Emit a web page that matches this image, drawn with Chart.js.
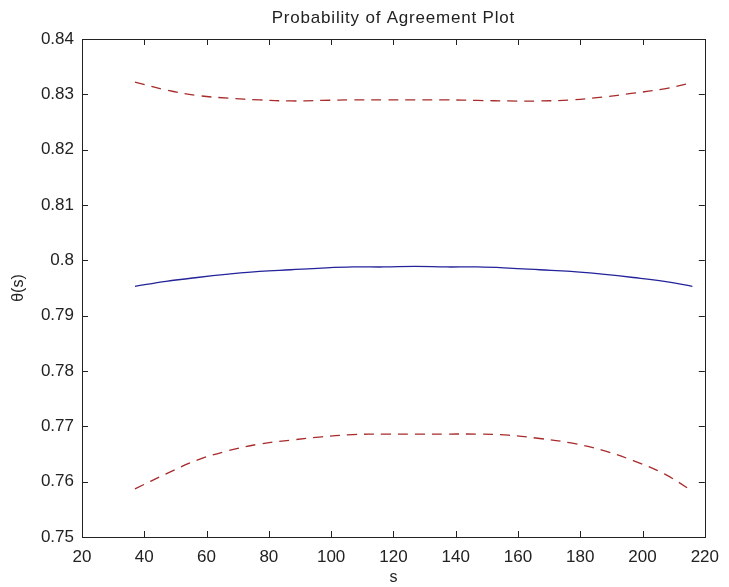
<!DOCTYPE html>
<html>
<head>
<meta charset="utf-8">
<script src="https://cdn.jsdelivr.net/npm/chart.js@4.4.1/dist/chart.umd.min.js"></script>
<style>
  html, body { margin: 0; padding: 0; background: #fff; }
  #wrap { width: 729px; height: 587px; }
</style>
</head>
<body>
<div id="wrap"><canvas id="chart" width="729" height="587"></canvas></div>
<script>
// s values and agreement estimates with their bounds
const sValues    = [37, 47, 57, 67, 77, 87, 97, 107, 117, 127, 137, 147, 157, 167, 177, 187, 197, 207, 216];
const thetaHat   = [0.7953, 0.7962, 0.7969, 0.7975, 0.7980, 0.7983, 0.7986, 0.7988, 0.7988, 0.7989,
                    0.7988, 0.7988, 0.7986, 0.7983, 0.7980, 0.7975, 0.7969, 0.7962, 0.7953];
const upperBound = [0.8322, 0.8308, 0.8298, 0.8293, 0.8290, 0.8288, 0.8289, 0.8290, 0.8290, 0.8290,
                    0.8290, 0.8289, 0.8288, 0.8288, 0.8290, 0.8295, 0.8302, 0.8310, 0.8321];
const lowerBound = [0.7587, 0.7614, 0.7639, 0.7656, 0.7668, 0.7675, 0.7681, 0.7685, 0.7686, 0.7686,
                    0.7686, 0.7686, 0.7684, 0.7678, 0.7670, 0.7657, 0.7638, 0.7614, 0.7583];

const xTickValues = [20, 40, 60, 80, 100, 120, 140, 160, 180, 200, 220];
const yTickValues = [0.75, 0.76, 0.77, 0.78, 0.79, 0.8, 0.81, 0.82, 0.83, 0.84];

const TEXT = '#222';
const FONT = 'Liberation Sans, Arial, sans-serif';

const toPoints = vals => sValues.map((s, i) => ({ x: s, y: vals[i] }));

// box, inward ticks and the axis texts, drawn the old plotting-package way
const frame = {
  id: 'frame',
  afterDatasetsDraw(chart) {
    const { ctx, chartArea: a, scales: { x, y } } = chart;
    const tick = 6;
    ctx.save();
    ctx.strokeStyle = TEXT;
    ctx.lineWidth = 1;
    ctx.strokeRect(Math.round(a.left) + 0.5, Math.round(a.top) + 0.5,
                   Math.round(a.right - a.left), Math.round(a.bottom - a.top));
    ctx.beginPath();
    xTickValues.forEach(v => {
      const px = Math.round(x.getPixelForValue(v)) + 0.5;
      ctx.moveTo(px, a.bottom); ctx.lineTo(px, a.bottom - tick);
      ctx.moveTo(px, a.top); ctx.lineTo(px, a.top + tick);
    });
    yTickValues.forEach(v => {
      const py = Math.round(y.getPixelForValue(v)) + 0.5;
      ctx.moveTo(a.left, py); ctx.lineTo(a.left + tick, py);
      ctx.moveTo(a.right, py); ctx.lineTo(a.right - tick, py);
    });
    ctx.stroke();

    ctx.fillStyle = TEXT;
    ctx.textAlign = 'center';
    ctx.textBaseline = 'alphabetic';
    const cx = (a.left + a.right) / 2;
    ctx.font = '17px ' + FONT;
    ctx.letterSpacing = '0.8px';
    ctx.fillText('Probability of Agreement Plot', cx, 23);
    ctx.letterSpacing = '0px';
    ctx.font = '16px ' + FONT;
    ctx.fillText('s', cx, 582);

    ctx.translate(19, (a.top + a.bottom) / 2);
    ctx.rotate(-Math.PI / 2);
    ctx.textBaseline = 'middle';
    ctx.fillText('θ(s)', 0, 0);
    ctx.restore();
  }
};

new Chart(document.getElementById('chart'), {
  type: 'scatter',
  data: {
    datasets: [
      {
        data: toPoints(upperBound),
        showLine: true, borderColor: '#a82a2a', borderWidth: 1.3,
        borderDash: [10, 7], pointRadius: 0, tension: 0.4
      },
      {
        data: toPoints(thetaHat),
        showLine: true, borderColor: '#23239a', borderWidth: 1.3,
        pointRadius: 0, tension: 0.4
      },
      {
        data: toPoints(lowerBound),
        showLine: true, borderColor: '#a82a2a', borderWidth: 1.3,
        borderDash: [10, 7], pointRadius: 0, tension: 0.4
      }
    ]
  },
  options: {
    responsive: false,
    animation: false,
    layout: { padding: { left: 0, right: 15, top: 39, bottom: 0 } },
    plugins: {
      legend: { display: false },
      title: { display: false },
      tooltip: { enabled: false }
    },
    scales: {
      x: {
        type: 'linear', min: 20, max: 220,
        afterFit: s => { s.height = 50; },
        afterBuildTicks: s => { s.ticks = xTickValues.map(v => ({ value: v })); },
        grid: { display: false, drawTicks: false },
        border: { display: false },
        ticks: { color: TEXT, padding: 10, maxRotation: 0, font: { size: 17, family: FONT } }
      },
      y: {
        type: 'linear', min: 0.75, max: 0.84,
        afterFit: s => { s.width = 82; },
        afterBuildTicks: s => { s.ticks = yTickValues.map(v => ({ value: v })); },
        grid: { display: false, drawTicks: false },
        border: { display: false },
        ticks: {
          color: TEXT, padding: 8, font: { size: 17, family: FONT },
          callback: v => String(Number(v.toFixed(2)))
        }
      }
    }
  },
  plugins: [frame]
});
</script>
</body>
</html>
